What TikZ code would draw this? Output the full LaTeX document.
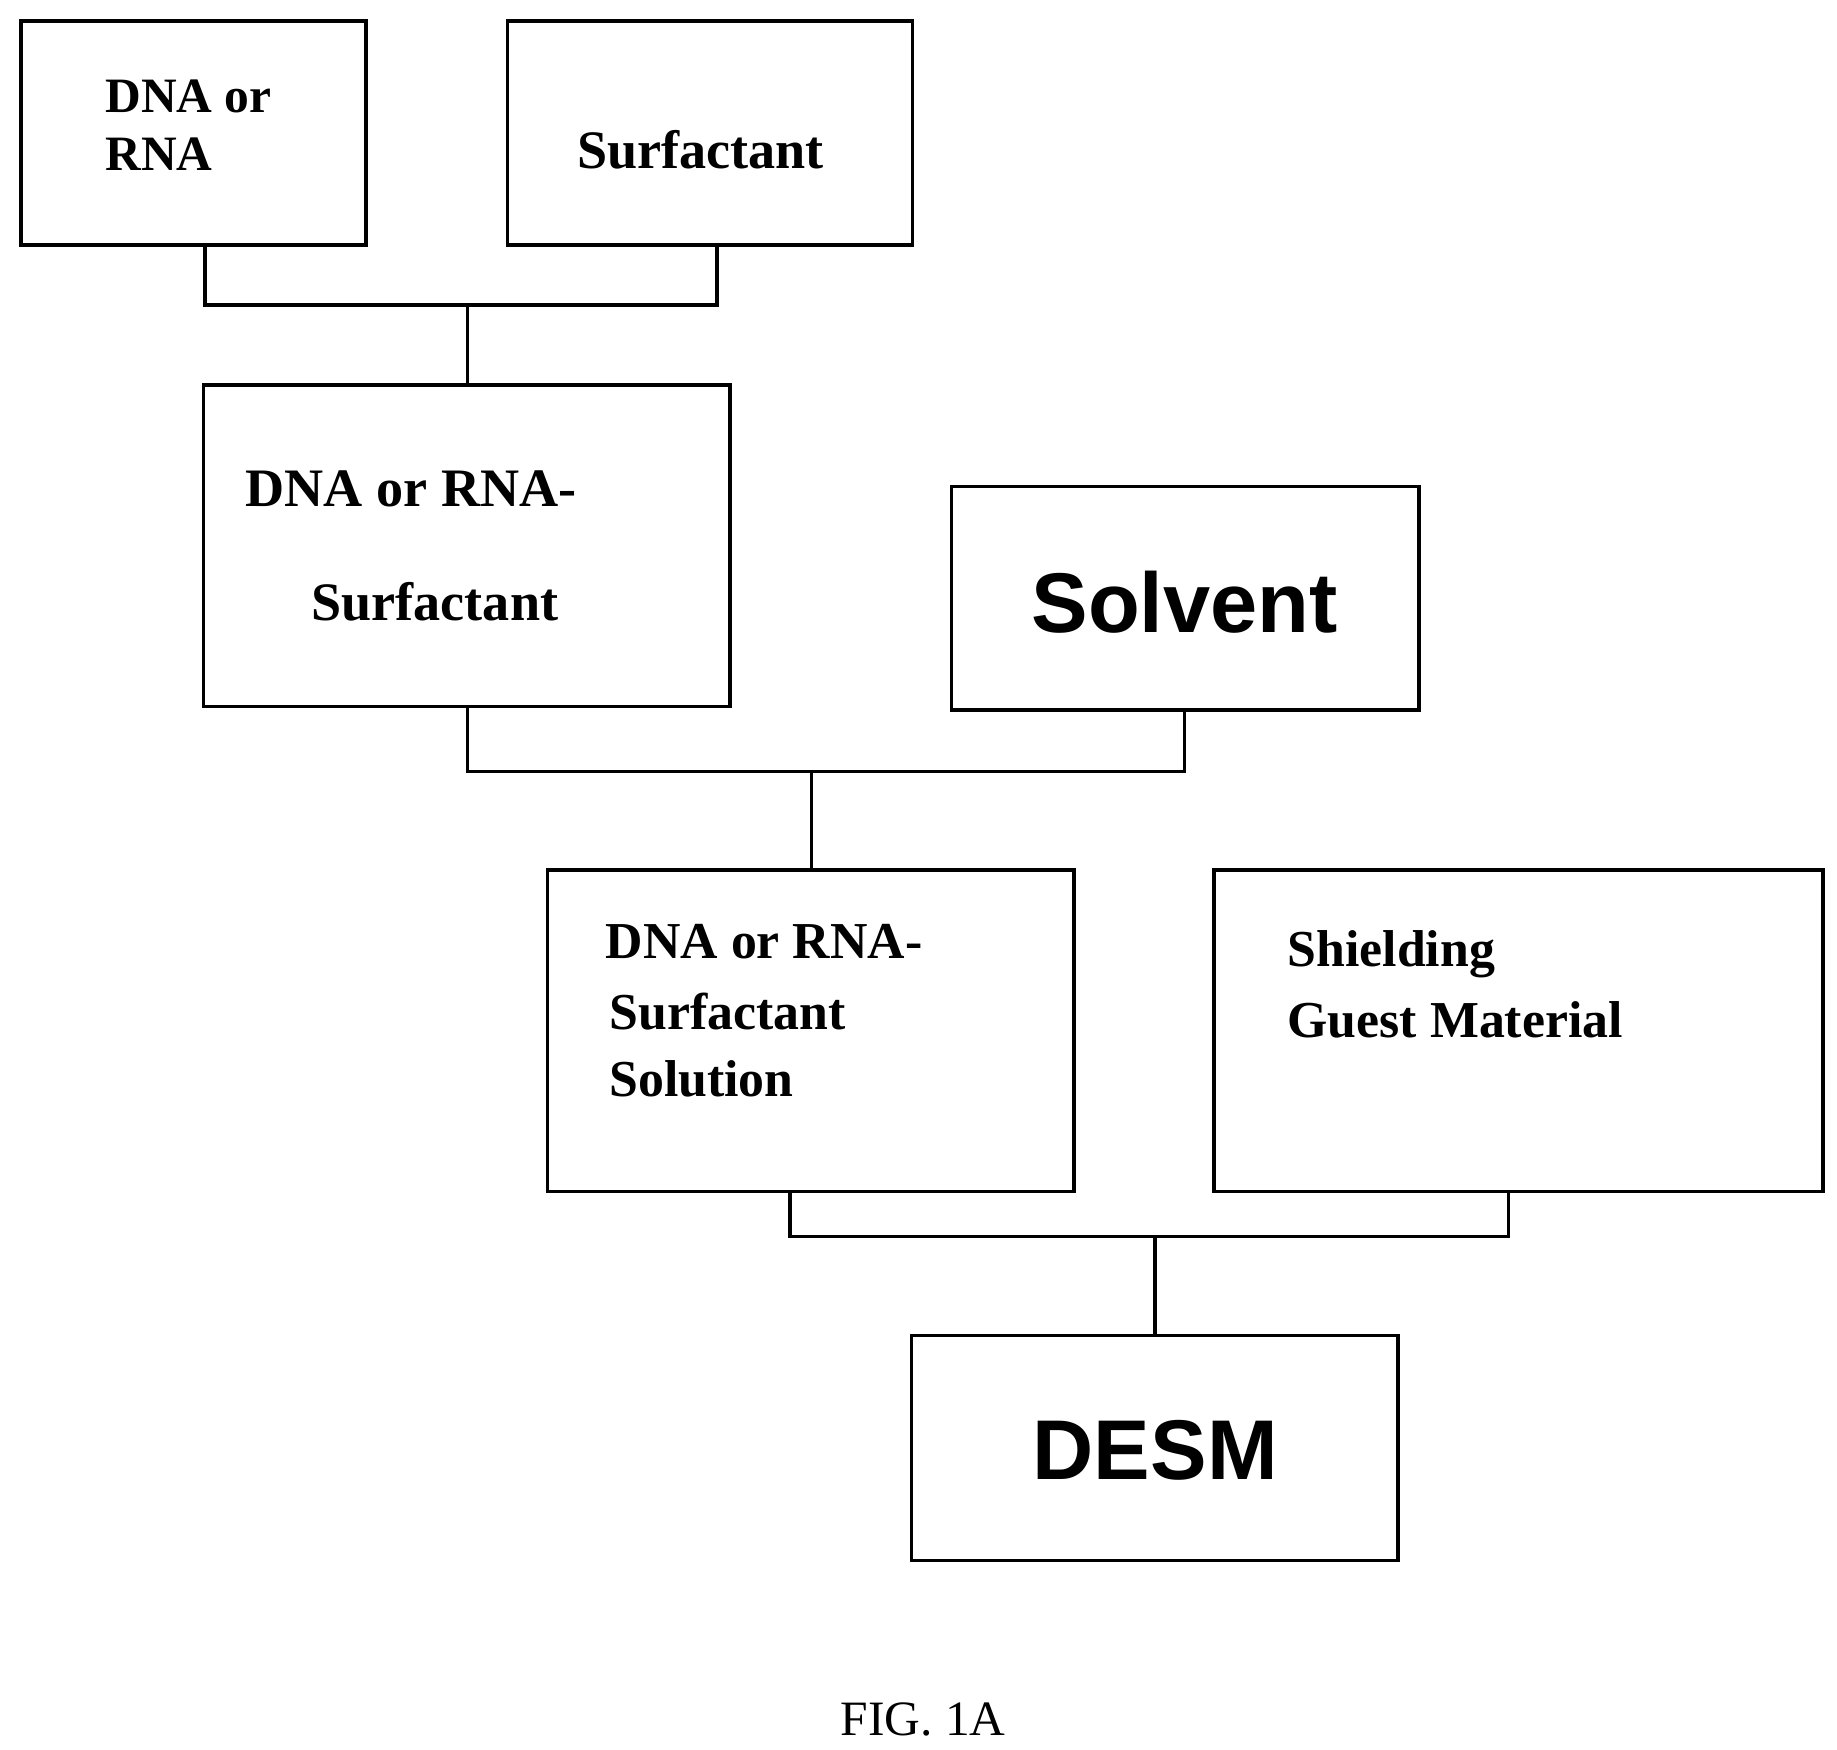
\documentclass[tikz,border=0pt]{standalone}
\usepackage{fontspec}
\setmainfont{Liberation Serif}
\newfontfamily\arialf{Liberation Sans}
\begin{document}
\begin{tikzpicture}[x=1pt,y=-1pt,line width=3pt,
  box/.style={draw,line width=3pt},
  lbl/.style={anchor=west,inner sep=0pt,font=\fontsize{42}{48}\selectfont\bfseries,align=left},
  big/.style={inner sep=0pt,font=\arialf\fontsize{72}{80}\selectfont\bfseries}]
\useasboundingbox (0,0) rectangle (1560,1486);
\draw[box] (18,18) rectangle (311,208);
\node[lbl] (a) at (88,82) {DNA or};
\node[lbl] (a2) at (88,131) {RNA};
\draw[box] (431,18) rectangle (775,208);
\node[lbl,anchor=center,font=\fontsize{46}{50}\selectfont\bfseries] (b) at (595,127) {Surfactant};
\draw[box] (173,327) rectangle (620,600);
\node[lbl,font=\fontsize{46}{50}\selectfont\bfseries] (c) at (207,415) {DNA or RNA-};
\node[lbl,font=\fontsize{46}{50}\selectfont\bfseries] (c2) at (263,511) {Surfactant};
\draw[box] (808,413) rectangle (1205,603);
\node[big] (d) at (1006,511) {Solvent};
\draw[box] (465,739) rectangle (912,1012);
\node[lbl,font=\fontsize{44}{50}\selectfont\bfseries] (e) at (513,800) {DNA or RNA-};
\node[lbl,font=\fontsize{44}{50}\selectfont\bfseries] (e2) at (516,859) {Surfactant};
\node[lbl,font=\fontsize{44}{50}\selectfont\bfseries] (e3) at (516,916) {Solution};
\draw[box] (1031,739) rectangle (1548,1012);
\node[lbl,font=\fontsize{44}{50}\selectfont\bfseries] (f) at (1092,810) {Shielding};
\node[lbl,font=\fontsize{44}{50}\selectfont\bfseries] (f2) at (1092,866) {Guest Material};
\draw[box] (774,1134) rectangle (1187,1325);
\node[big] (g) at (981,1232) {DESM};
\node[inner sep=0pt,font=\fontsize{42}{48}\selectfont] (fig) at (784,1460) {FIG. 1A};
\draw (174,208) -- (174,259) -- (609,259) -- (609,208);
\draw (397,259) -- (397,327);
\draw (397,600) -- (397,655) -- (1006,655) -- (1006,603);
\draw (689,655) -- (689,739);
\draw (671,1012) -- (671,1050) -- (1281,1050) -- (1281,1012);
\draw (981,1050) -- (981,1134);
\end{tikzpicture}
\end{document}
